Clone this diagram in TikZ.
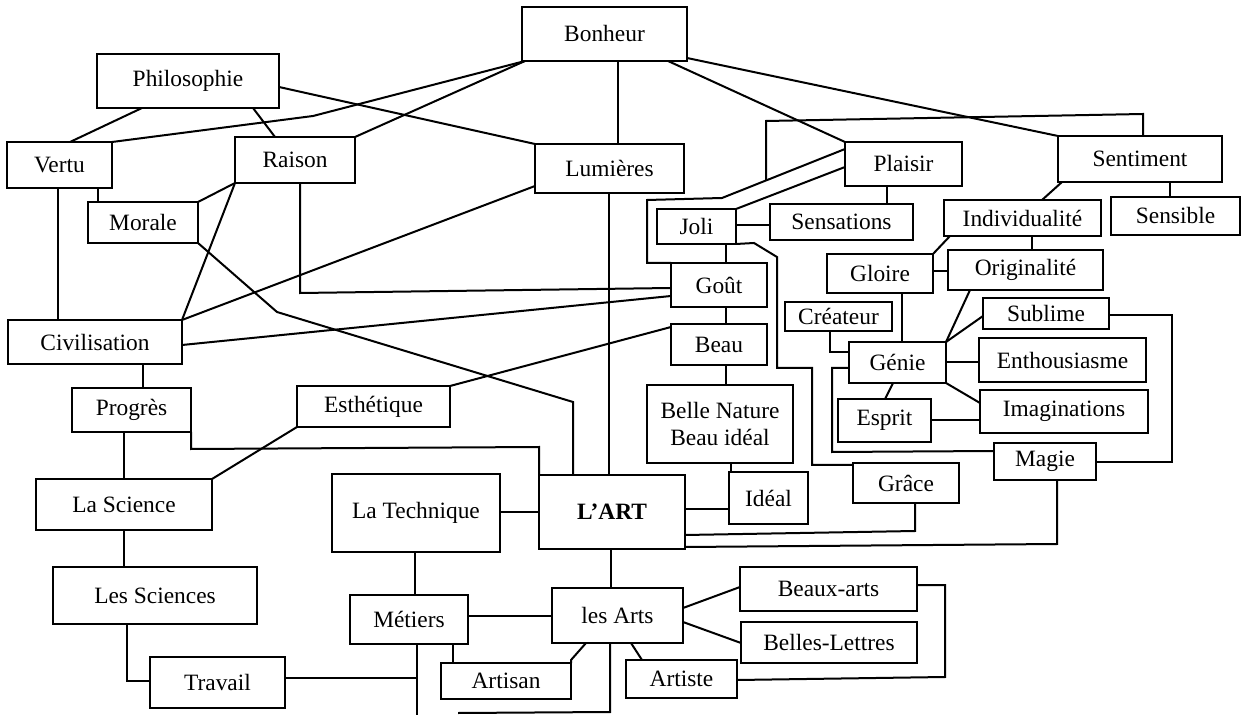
\documentclass[tikz,border=0pt]{standalone}
\usepackage{fontspec}
\setmainfont{Liberation Serif}
\usetikzlibrary{calc}
\tikzset{
  box/.style={draw=black, line width=1.2pt, inner sep=0pt, outer sep=0pt,
              align=center, font=\fontsize{11.7}{13.5}\selectfont},
  link/.style={draw=black, line width=1pt, line join=miter},
}
% concept box given by its corners (x1,y1) and (x2,y2)
\newcommand\conceptbox[6]{%
  \node[box, minimum width={(#4-#2)*0.5pt}, minimum height={(#5-#3)*0.5pt}]
    (#1) at ({(#2+#4)/2},{(#3+#5)/2}) {#6};}
\begin{document}
\begin{tikzpicture}[x=0.5pt,y=-0.5pt]
\useasboundingbox (0,0) rectangle (1246,715);
\fill[white] (0,0) rectangle (1246,715);

% ---------- concepts ----------
\conceptbox{Bonheur}{522}{7}{687}{61}{Bonheur}
\conceptbox{Philosophie}{97}{54}{279}{108}{Philosophie}
\conceptbox{Vertu}{7}{142}{112}{188}{Vertu}
\conceptbox{Raison}{235}{137}{355}{183}{Raison}
\conceptbox{Morale}{88}{202}{198}{243}{Morale}
\conceptbox{Lumieres}{535}{144}{684}{193}{Lumières}
\conceptbox{Plaisir}{845}{142}{962}{186}{Plaisir}
\conceptbox{Sentiment}{1058}{136}{1222}{182}{Sentiment}
\conceptbox{Joli}{657}{209}{736}{244}{Joli}
\conceptbox{Sensations}{770}{204}{913}{240}{Sensations}
\conceptbox{Individualite}{944}{200}{1101}{236}{Individualité}
\conceptbox{Sensible}{1111}{197}{1240}{235}{Sensible}
\conceptbox{Gloire}{827}{254}{933}{293}{Gloire}
\conceptbox{Originalite}{948}{250}{1103}{290}{Originalité}
\conceptbox{Gout}{671}{263}{767}{307}{Goût}
\conceptbox{Createur}{785}{302}{892}{331}{Créateur}
\conceptbox{Sublime}{983}{298}{1109}{329}{Sublime}
\conceptbox{Genie}{849}{342}{946}{383}{Génie}
\conceptbox{Enthousiasme}{979}{338}{1146}{382}{Enthousiasme}
\conceptbox{Beau}{671}{324}{767}{365}{Beau}
\conceptbox{Civilisation}{8}{320}{182}{364}{Civilisation}
\conceptbox{Esprit}{838}{399}{931}{442}{Esprit}
\conceptbox{Imaginations}{980}{390}{1148}{433}{Imaginations}
\conceptbox{BelleNature}{647}{385}{793}{463}{Belle Nature\\Beau idéal}
\conceptbox{Progres}{72}{388}{191}{432}{Progrès}
\conceptbox{Esthetique}{297}{386}{450}{427}{Esthétique}
\conceptbox{Magie}{994}{443}{1096}{480}{Magie}
\conceptbox{Grace}{853}{463}{959}{503}{Grâce}
\conceptbox{LaScience}{36}{479}{212}{530}{La Science}
\conceptbox{LaTechnique}{332}{474}{500}{552}{La Technique}
\conceptbox{LArt}{539}{475}{685}{549}{\bfseries L’ART}
\conceptbox{Ideal}{729}{472}{808}{524}{Idéal}
\conceptbox{LesSciences}{53}{567}{257}{624}{Les Sciences}
\conceptbox{Metiers}{350}{595}{468}{644}{Métiers}
\conceptbox{LesArts}{552}{588}{683}{643}{les Arts}
\conceptbox{BeauxArts}{740}{567}{917}{611}{Beaux-arts}
\conceptbox{BellesLettres}{741}{622}{917}{663}{Belles-Lettres}
\conceptbox{Artisan}{441}{663}{571}{699}{Artisan}
\conceptbox{Artiste}{626}{660}{737}{698}{Artiste}
\conceptbox{Travail}{150}{657}{285}{708}{Travail}

% ---------- junction points ----------
\coordinate (pg) at (Plaisir.west |- 0,149);
\coordinate (pjoin) at ($(pg)!0.642!(722,198)$);
\coordinate (tjoin) at (417,678);
\coordinate (mend) at (417,715);
\coordinate (aend) at (458,713);

% ---------- upper part ----------
\draw[link] (Philosophie.south -| 142,0) -- (Vertu.north -| 70,0);
\draw[link] (Philosophie.south -| 253,0) -- (Raison.north -| 275,0);
\draw[link] (Philosophie.east |- 0,87) -- (Lumieres.north west);
\draw[link] (Bonheur.south -| 525,0) -- (313,116) -- (Vertu.north east);
\draw[link] (Bonheur.south -| 525,0) -- (Raison.north east);
\draw[link] (Bonheur.south -| 618,0) -- (Lumieres.north -| 618,0);
\draw[link] (Bonheur.south -| 668,0) -- (Plaisir.north west);
\draw[link] (Bonheur.east |- 0,58) -- (Sentiment.north west);

\draw[link] (pg) -- (722,198) -- (647,200) -- (647,263) -- (Gout.north west);
\draw[link] (Sentiment.north -| 1143,0) -- (1143,114) -- (766,121) -- (pjoin);
\draw[link] (Plaisir.west |- 0,167) -- (Joli.north east);
\draw[link] (Joli.east |- 0,225) -- (Sensations.west |- 0,225);
\draw[link] (Plaisir.south -| 887,0) -- (Sensations.north -| 887,0);
\draw[link] (Joli.south -| 726,0) -- (Gout.north -| 726,0);
\draw[link] (Joli.south east) -- (754,243) -- (777,257) -- (777,368) -- (812,368)
            -- (812,465) -- (Grace.west |- 0,465);

\draw[link] (Sentiment.south -| 1062,0) -- (Individualite.north -| 1042,0);
\draw[link] (Sentiment.south -| 1170,0) -- (Sensible.north -| 1170,0);
\draw[link] (Individualite.south -| 950,0) -- (Gloire.north east);
\draw[link] (Individualite.south -| 1032,0) -- (Originalite.north -| 1032,0);
\draw[link] (Gloire.east |- 0,271) -- (Originalite.west |- 0,271);
\draw[link] (Gloire.south -| 902,0) -- (Genie.north -| 902,0);
\draw[link] (Createur.south -| 830,0) -- (830,352) -- (Genie.west |- 0,352);
\draw[link] (Originalite.south -| 970,0) -- (Genie.north east);
\draw[link] (Sublime.west |- 0,316) -- (Genie.north east);
\draw[link] (Genie.east |- 0,362) -- (Enthousiasme.west |- 0,362);
\draw[link] (Genie.south east) -- (Imaginations.west |- 0,403);
\draw[link] (Genie.south -| 893,0) -- (Esprit.north -| 885,0);
\draw[link] (Esprit.east |- 0,420) -- (Imaginations.west |- 0,420);
\draw[link] (Genie.west |- 0,368) -- (832,368) -- (832,452) -- (Magie.west |- 0,451);
\draw[link] (Sublime.east |- 0,315) -- (1172,315) -- (1172,462) -- (Magie.east |- 0,462);
\draw[link] (Magie.south -| 1057,0) -- (1057,544) -- (LArt.east |- 0,547);
\draw[link] (Grace.south -| 915,0) -- (915,531) -- (LArt.east |- 0,535);
\draw[link] (LArt.east |- 0,509) -- (Ideal.west |- 0,509);
\draw[link] (BelleNature.south -| 731,0) -- (Ideal.north -| 731,0);
\draw[link] (Gout.south -| 726,0) -- (Beau.north -| 726,0);
\draw[link] (Beau.south -| 726,0) -- (BelleNature.north -| 726,0);

% ---------- left part ----------
\draw[link] (Esthetique.north east) -- (Beau.west |- 0,327);
\draw[link] (Esthetique.south west) -- (LaScience.north east);
\draw[link] (Lumieres.south -| 609,0) -- (LArt.north -| 609,0);
\draw[link] (Lumieres.west |- 0,186) -- (Civilisation.north east);
\draw[link] (Raison.south west) -- (Civilisation.north east);
\draw[link] (Raison.south west) -- (Morale.north east);
\draw[link] (Raison.south -| 300,0) -- (300,293) -- (Gout.west |- 0,288);
\draw[link] (Civilisation.east |- 0,345) -- (Gout.west |- 0,296);
\draw[link] (Morale.south east) -- (277,312) -- (573,402) -- (LArt.north -| 573,0);
\draw[link] (Vertu.south -| 58,0) -- (Civilisation.north -| 58,0);
\draw[link] (Vertu.south -| 98,0) -- (Morale.north -| 98,0);
\draw[link] (Civilisation.south -| 143,0) -- (Progres.north -| 143,0);
\draw[link] (Progres.south east) -- (191,449) -- (539,447) -- (LArt.north west);
\draw[link] (Progres.south -| 124,0) -- (LaScience.north -| 124,0);
\draw[link] (LaScience.south -| 124,0) -- (LesSciences.north -| 124,0);
\draw[link] (LesSciences.south -| 127,0) -- (127,681) -- (Travail.west |- 0,681);

% ---------- lower part ----------
\draw[link] (Metiers.south -| 417,0) -- (mend);
\draw[link] (Travail.east |- 0,678) -- (tjoin);
\draw[link] (LaTechnique.south -| 415,0) -- (Metiers.north -| 415,0);
\draw[link] (LaTechnique.east |- 0,512) -- (LArt.west |- 0,512);
\draw[link] (LArt.south -| 611,0) -- (LesArts.north -| 611,0);
\draw[link] (Metiers.east |- 0,616) -- (LesArts.west |- 0,616);
\draw[link] (Metiers.south -| 453,0) -- (Artisan.north -| 453,0);
\draw[link] (LesArts.south -| 586,0) -- (571,660) -- (Artisan.north east);
\draw[link] (LesArts.south -| 631,0) -- (Artiste.north -| 642,0);
\draw[link] (LesArts.south -| 610,0) -- (610,712) -- (aend);
\draw[link] (LesArts.east |- 0,608) -- (BeauxArts.west |- 0,587);
\draw[link] (LesArts.east |- 0,622) -- (BellesLettres.west |- 0,643);
\draw[link] (BeauxArts.east |- 0,585) -- (945,585) -- (945,677) -- (Artiste.east |- 0,680);
\end{tikzpicture}
\end{document}
